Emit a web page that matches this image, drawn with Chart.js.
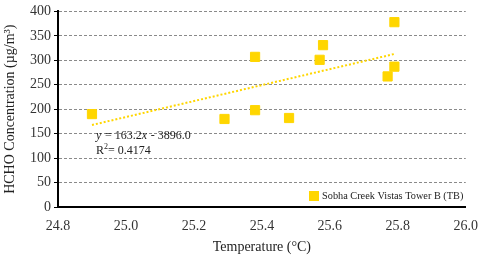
<!DOCTYPE html>
<html>
<head>
<meta charset="utf-8">
<script src="https://cdn.jsdelivr.net/npm/chart.js@4"></script>
<style>
  html, body { margin: 0; padding: 0; background: #fff; }
  #wrap { width: 484px; height: 256px; position: relative; }
</style>
</head>
<body>
<div id="wrap"><canvas id="chart" width="484" height="256"></canvas></div>
<script>
// measured points (temperature, HCHO)
const temps = [24.90, 25.29, 25.38, 25.38, 25.48, 25.57, 25.58, 25.77, 25.79, 25.79];
const hcho = [190, 180, 307, 198, 182, 301, 331, 267, 378, 287];

// trend line end points (y = 163.2x - 3896.0)
const trendX = [24.90, 25.79];
const trendY = [167.7, 312.9];

const xTicks = [24.8, 25.0, 25.2, 25.4, 25.6, 25.8, 26.0];
const seriesName = 'Sobha Creek Vistas Tower B (TB)';
const r2Text = '= 0.4174';

const yellow = '#FFD600';
const serif = "'Liberation Serif', 'Times New Roman', serif";

// legend + equation text drawn inside the plot
const notes = {
    id: 'notes',
    afterDraw(chart) {
        const ctx = chart.ctx;
        ctx.save();
        ctx.fillStyle = '#222';
        ctx.textBaseline = 'middle';
        // equation
        let x0 = 96, y0 = 136;
        ctx.font = 'italic 12px ' + serif;
        ctx.fillText('y', x0, y0);
        ctx.font = '12px ' + serif;
        ctx.fillText(' = ', x0 + 6, y0);
        let w = ctx.measureText(' = ').width;
        ctx.fillText('163.2', x0 + 6 + w, y0);
        let w2 = ctx.measureText('163.2').width;
        ctx.font = 'italic 12px ' + serif;
        ctx.fillText('x', x0 + 6 + w + w2, y0);
        ctx.font = '12px ' + serif;
        ctx.fillText(' - 3896.0', x0 + 12 + w + w2, y0);
        // R2
        ctx.fillText('R', x0, y0 + 15);
        ctx.font = '8px ' + serif;
        ctx.fillText('2', x0 + 8, y0 + 11);
        ctx.font = '12px ' + serif;
        ctx.fillText(r2Text, x0 + 12, y0 + 15);
        // legend
        ctx.fillStyle = yellow;
        ctx.fillRect(309, 191, 10, 10);
        ctx.fillStyle = '#222';
        ctx.font = '10.3px ' + serif;
        ctx.fillText(seriesName, 322, 196);
        ctx.restore();
    }
};

new Chart(document.getElementById('chart'), {
    type: 'scatter',
    data: {
        datasets: [{
            label: seriesName,
            data: temps.map((t, i) => ({ x: t, y: hcho[i] })),
            backgroundColor: yellow,
            borderColor: yellow,
            pointStyle: 'rect',
            pointRadius: 6.5,
            pointHoverRadius: 6.5,
            order: 1
        }, {
            label: 'trend',
            type: 'line',
            data: trendX.map((t, i) => ({ x: t, y: trendY[i] })),
            borderColor: yellow,
            borderWidth: 2,
            borderDash: [2, 2],
            pointRadius: 0,
            fill: false,
            order: 2
        }]
    },
    options: {
        responsive: false,
        animation: false,
        layout: { padding: { top: 5, right: 2, left: 2, bottom: 0 } },
        plugins: {
            legend: { display: false },
            tooltip: { enabled: false }
        },
        scales: {
            x: {
                type: 'linear',
                min: 24.8,
                max: 26.0,
                afterBuildTicks: s => { s.ticks = xTicks.map(v => ({ value: v })); },
                afterFit: s => { s.height = 49; },
                grid: { display: false, drawTicks: true, tickLength: 5, tickColor: '#000' },
                border: { color: '#000', width: 2 },
                ticks: {
                    color: '#333',
                    font: { family: serif, size: 14 },
                    padding: 6,
                    maxRotation: 0,
                    callback: v => v.toFixed(1)
                },
                title: {
                    display: true,
                    text: 'Temperature (°C)',
                    color: '#222',
                    font: { family: serif, size: 14 },
                    padding: { top: 4, bottom: 0 }
                }
            },
            y: {
                min: 0,
                max: 400,
                afterFit: s => { s.width = 56; },
                ticks: {
                    stepSize: 50,
                    color: '#333',
                    font: { family: serif, size: 14 },
                    padding: 3
                },
                grid: {
                    color: ctx => ctx.tick && ctx.tick.value === 0 ? 'rgba(0,0,0,0)' : '#8a8a8a',
                    lineWidth: 1,
                    tickLength: 4,
                    tickColor: '#000'
                },
                border: { color: '#000', width: 2, dash: [3, 2] },
                title: {
                    display: true,
                    text: 'HCHO Concentration (µg/m³)',
                    color: '#222',
                    font: { family: serif, size: 14 },
                    padding: { top: 0, bottom: 2 }
                }
            }
        }
    },
    plugins: [notes]
});
</script>
</body>
</html>
